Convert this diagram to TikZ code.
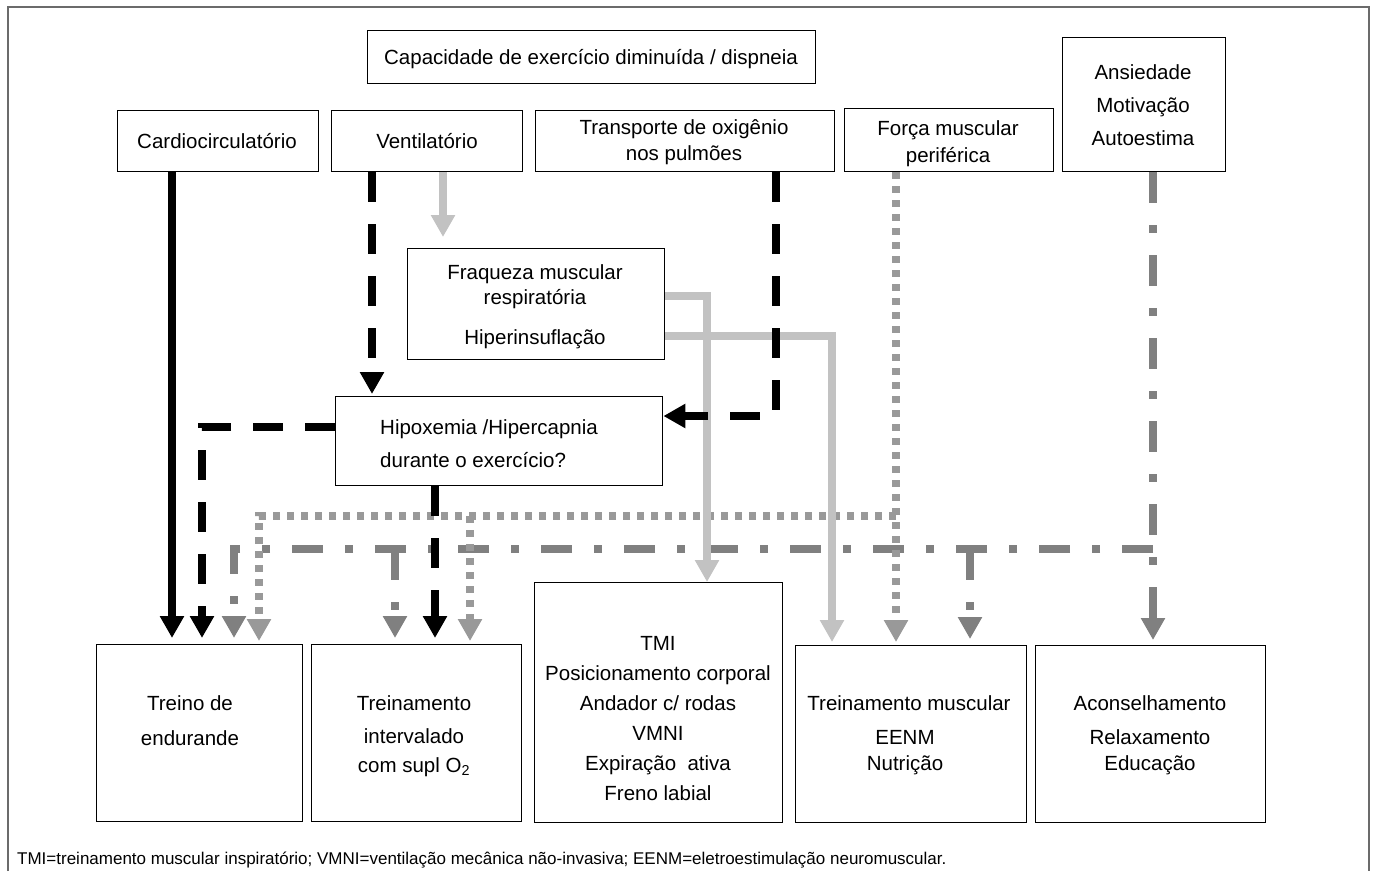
\documentclass[tikz,border=0pt]{standalone}
\usepackage{fontspec}
\setmainfont{Liberation Sans}
\usetikzlibrary{arrows.meta}
\definecolor{lightline}{HTML}{C2C2C2}
\definecolor{dotline}{HTML}{999999}
\definecolor{dashdotline}{HTML}{808080}
\definecolor{framegray}{HTML}{6B6B6B}
\begin{document}
\begin{tikzpicture}[x=1pt,y=-1pt,
  box/.style={draw=black,line width=1.4pt,anchor=north west,inner sep=0pt},
  txt/.style={font=\fontsize{20.5}{24}\selectfont,inner sep=0pt,anchor=base},
  ltxt/.style={txt,anchor=base west},
  tip/.style={-{Triangle[width=23pt,length=22pt]}},
  solidblack/.style={line width=7.5pt,black,tip},
  dashblack/.style={line width=7.5pt,black,dash pattern=on 30pt off 22pt,tip},
  lightarrow/.style={line width=7.5pt,lightline,tip},
  dotarrow/.style={line width=8pt,dotline,dash pattern=on 7pt off 7pt,tip},
  dashdotarrow/.style={line width=8pt,dashdotline,dash pattern=on 31pt off 22pt on 8pt off 22pt,tip}
]
\useasboundingbox (0,0) rectangle (1376,871);

% outer frame, open at the bottom
\draw[framegray,line width=1.3pt] (8,871) -- (8,7) -- (1369,7) -- (1369,871);

% ---------- boxes ----------
\node[box,minimum width=448pt,minimum height=53pt] (cap) at (367,30) {};
\node[box,minimum width=201pt,minimum height=61pt] (cardio) at (117,110) {};
\node[box,minimum width=191pt,minimum height=61pt] (ventil) at (331,110) {};
\node[box,minimum width=299pt,minimum height=61pt] (trans) at (535,110) {};
\node[box,minimum width=209pt,minimum height=63pt] (forca) at (844,108) {};
\node[box,minimum width=163pt,minimum height=134pt] (ansi) at (1062,37) {};
\node[box,minimum width=257pt,minimum height=111pt] (fraq) at (407,248) {};
\node[box,minimum width=327pt,minimum height=89pt] (hipo) at (335,396) {};
\node[box,minimum width=206pt,minimum height=177pt] (treino) at (96,644) {};
\node[box,minimum width=210pt,minimum height=177pt] (interv) at (311,644) {};
\node[box,minimum width=248pt,minimum height=240pt] (tmi) at (534,582) {};
\node[box,minimum width=231pt,minimum height=177pt] (tmusc) at (795,645) {};
\node[box,minimum width=230pt,minimum height=177pt] (acons) at (1035,645) {};

% ---------- texts ----------
\node[txt] (capT) at (591,64) {Capacidade de exercício diminuída / dispneia};
\node[txt] (cardioT) at (217,148) {Cardiocirculatório};
\node[txt] (ventilT) at (427,148) {Ventilatório};
\node[txt] (transT1) at (684,134) {Transporte de oxigênio};
\node[txt] (transT2) at (684,160) {nos pulmões};
\node[txt] (forcaT1) at (948,135) {Força muscular};
\node[txt] (forcaT2) at (948,162) {periférica};
\node[txt] (ansiT1) at (1143,79) {Ansiedade};
\node[txt] (ansiT2) at (1143,112) {Motivação};
\node[txt] (ansiT3) at (1143,145) {Autoestima};
\node[txt] (fraqT1) at (535,279) {Fraqueza muscular};
\node[txt] (fraqT2) at (535,304) {respiratória};
\node[txt] (fraqT3) at (535,344) {Hiperinsuflação};
\node[ltxt] (hipoT1) at (380,434) {Hipoxemia /Hipercapnia};
\node[ltxt] (hipoT2) at (380,467) {durante o exercício?};
\node[txt] (treinoT1) at (190,710) {Treino de};
\node[txt] (treinoT2) at (190,745) {endurande};
\node[txt] (intervT1) at (414,710) {Treinamento};
\node[txt] (intervT2) at (414,743) {intervalado};
\node[txt] (intervT3) at (414,772) {com supl O\textsubscript{2}};
\node[txt] (tmiT1) at (658,650) {TMI};
\node[txt] (tmiT2) at (658,680) {Posicionamento corporal};
\node[txt] (tmiT3) at (658,710) {Andador c/ rodas};
\node[txt] (tmiT4) at (658,740) {VMNI};
\node[txt] (tmiT5) at (658,770) {Expiração~~ativa};
\node[txt] (tmiT6) at (658,800) {Freno labial};
\node[txt] (tmuscT1) at (909,710) {Treinamento muscular};
\node[txt] (tmuscT2) at (905,744) {EENM};
\node[txt] (tmuscT3) at (905,770) {Nutrição};
\node[txt] (aconsT1) at (1150,710) {Aconselhamento};
\node[txt] (aconsT2) at (1150,744) {Relaxamento};
\node[txt] (aconsT3) at (1150,770) {Educação};
\node[anchor=base west,font=\fontsize{17}{20}\selectfont,inner sep=0pt] (legend) at (17,864)
  {TMI=treinamento muscular inspiratório; VMNI=ventilação mecânica não-invasiva; EENM=eletroestimulação neuromuscular.};

% ---------- junction points ----------
\coordinate (xA) at (172,0);
\coordinate (xB) at (372,0);
\coordinate (xC) at (443,0);
\coordinate (kD) at (776,416);
\coordinate (kE) at (202,427);
\coordinate (xF) at (435,0);
\coordinate (kG) at (707,296);
\coordinate (kH) at (832,336);
\coordinate (kI) at (896,516);
\coordinate (kJ) at (259,516);
\coordinate (kK) at (470,516);
\coordinate (kL) at (1153,549);
\coordinate (kM) at (234,549);
\coordinate (kN) at (395,549);
\coordinate (kO) at (970,549);

% ---------- psychosocial (dash-dot) ----------
\draw[dashdotarrow,shorten >=5pt] (ansi.south -| kL) -- (acons.north -| kL);
\draw[dashdotarrow,shorten >=6pt] (kL) -- (kM) -- (treino.north -| kM);
\draw[dashdotarrow,shorten >=6pt] (kN) -- (interv.north -| kN);
\draw[dashdotarrow,shorten >=6pt] (kO) -- (tmusc.north -| kO);

% ---------- peripheral muscle (dotted) ----------
\draw[dotarrow,shorten >=3pt] (forca.south -| kI) -- (tmusc.north -| kI);
\draw[dotarrow,shorten >=3pt] (kI) -- (kJ) -- (treino.north -| kJ);
\draw[dotarrow,shorten >=3pt] (kK) -- (interv.north -| kK);

% ---------- respiratory muscles (light grey) ----------
\draw[lightarrow,shorten >=11pt] (ventil.south -| xC) -- (fraq.north -| xC);
\draw[lightarrow] (fraq.east |- kG) -- (kG) -- (tmi.north -| kG);
\draw[lightarrow,shorten >=3pt] (fraq.east |- kH) -- (kH) -- (tmusc.north -| kH);

% ---------- cardio / gas exchange (black) ----------
\draw[solidblack,shorten >=6pt] (cardio.south -| xA) -- (treino.north -| xA);
\draw[dashblack,shorten >=2pt] (ventil.south -| xB) -- (hipo.north -| xB);
\draw[dashblack] (trans.south -| kD) -- (kD) -- (hipo.east |- kD);
\draw[dashblack,shorten >=6pt] (hipo.west |- kE) -- (kE) -- (treino.north -| kE);
\draw[dashblack,shorten >=6pt] (hipo.south -| xF) -- (interv.north -| xF);
\end{tikzpicture}
\end{document}
